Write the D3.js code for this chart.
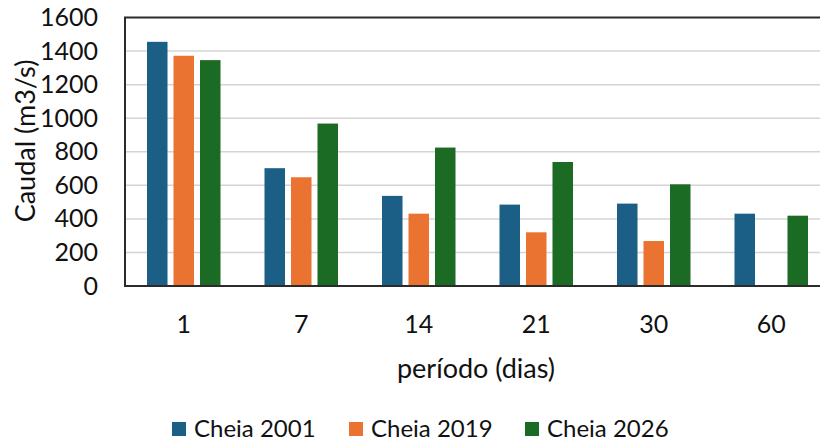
<!DOCTYPE html>
<html lang="pt">
<head>
<meta charset="UTF-8">
<title>Caudal por período</title>
<script src="https://d3js.org/d3.v7.min.js"></script>
<style>
  body { margin: 0; background: #fff; }
  text { font-family: Lato, "Open Sans", sans-serif; fill: #111; }
</style>
</head>
<body>
<script>
  // data
  const periods = ["1", "7", "14", "21", "30", "60"];
  const seriesNames = ["Cheia 2001", "Cheia 2019", "Cheia 2026"];
  const cheia2001 = [1455, 702, 537, 485, 491, 431];
  const cheia2019 = [1372, 648, 431, 320, 268, null];
  const cheia2026 = [1346, 968, 825, 739, 606, 419];
  const yTicks = [0, 200, 400, 600, 800, 1000, 1200, 1400, 1600];
  const colors = ["#1b5e86", "#eb7332", "#1c6b25"];

  const width = 820, height = 444;
  const plotLeft = 125, plotRight = 830, plotTop = 17.5, plotBottom = 286;

  const svg = d3.select("body").append("svg")
      .attr("width", width)
      .attr("height", height);

  const x = d3.scaleBand().domain(periods).range([plotLeft, plotRight]);
  const xSub = d3.scaleBand().domain(seriesNames).range([22, 95.5]).paddingInner(0.226);
  const y = d3.scaleLinear().domain([0, 1600]).range([plotBottom, plotTop]);

  // gridlines
  svg.append("g")
      .selectAll("line")
      .data(yTicks.filter(d => d > 0 && d < 1600))
      .join("line")
      .attr("x1", plotLeft).attr("x2", plotRight)
      .attr("y1", d => y(d)).attr("y2", d => y(d))
      .attr("stroke", "#d4d4d4")
      .attr("stroke-width", 1.5);

  // bars
  const values = [cheia2001, cheia2019, cheia2026];
  values.forEach((vals, s) => {
    svg.append("g")
        .selectAll("rect")
        .data(vals.map((v, i) => ({ p: periods[i], v })).filter(d => d.v != null))
        .join("rect")
        .attr("x", d => x(d.p) + xSub(seriesNames[s]))
        .attr("y", d => y(d.v))
        .attr("width", xSub.bandwidth())
        .attr("height", d => y(0) - y(d.v))
        .attr("fill", colors[s]);
  });

  // frame lines
  svg.append("path")
      .attr("d", `M${plotRight},${plotTop}H${plotLeft}V${plotBottom}H${plotRight}`)
      .attr("fill", "none")
      .attr("stroke", "#2b2b2b")
      .attr("stroke-width", 2);

  // y axis
  const yAxis = svg.append("g")
      .attr("transform", `translate(${plotLeft},0)`)
      .call(d3.axisLeft(y).tickValues(yTicks).tickFormat(d3.format("d")).tickSize(0).tickPadding(27));
  yAxis.select(".domain").remove();
  yAxis.selectAll("text")
      .style("font-size", "25px")
      .attr("fill", "#111");

  // x axis
  const xAxis = svg.append("g")
      .attr("transform", `translate(0,${plotBottom})`)
      .call(d3.axisBottom(x).tickSize(0).tickPadding(29));
  xAxis.select(".domain").remove();
  xAxis.selectAll("text")
      .style("font-size", "25px")
      .attr("fill", "#111");

  // axis titles
  svg.append("text")
      .attr("x", 476)
      .attr("y", 378)
      .attr("text-anchor", "middle")
      .style("font-size", "27px")
      .text("período (dias)");

  svg.append("text")
      .attr("transform", "rotate(-90)")
      .attr("x", -141)
      .attr("y", 35)
      .attr("text-anchor", "middle")
      .style("font-size", "27px")
      .text("Caudal (m3/s)");

  // legend
  const legendX = [172, 349, 525];
  const legend = svg.append("g");
  seriesNames.forEach((name, i) => {
    legend.append("rect")
        .attr("x", legendX[i])
        .attr("y", 422)
        .attr("width", 14)
        .attr("height", 14)
        .attr("fill", colors[i]);
    legend.append("text")
        .attr("x", legendX[i] + 22)
        .attr("y", 437)
        .style("font-size", "24px")
        .text(name);
  });
</script>
</body>
</html>
